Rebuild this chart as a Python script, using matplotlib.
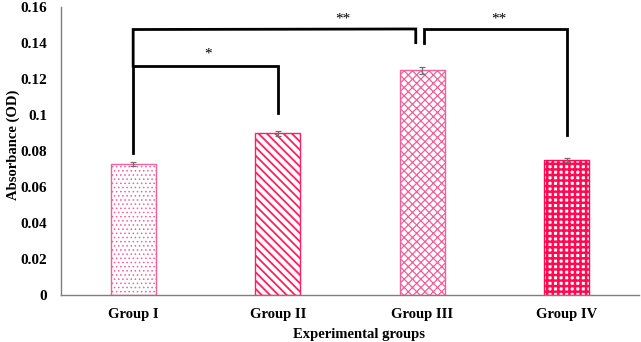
import matplotlib
matplotlib.use("Agg")
import matplotlib.pyplot as plt
import numpy as np

categories = ["Group I", "Group II", "Group III", "Group IV"]
values = [0.0728, 0.0898, 0.1248, 0.0750]
errors = [0.0010, 0.0013, 0.0020, 0.0011]
yticks = [0, 0.02, 0.04, 0.06, 0.08, 0.1, 0.12, 0.14, 0.16]
ytick_labels = ["0", "0.02", "0.04", "0.06", "0.08", "0.1", "0.12", "0.14", "0.16"]
hatches = ["....", "\\\\\\\\", "xxxx", "+++"]
edge_colors = ["#f0609a", "#ff1f5f", "#f0609a", "#ff0a52"]
hatch_lws = [0.6, 1.3, 0.9, 1.8]

plt.rcParams["font.family"] = ["Liberation Serif", "DejaVu Serif"]
plt.rcParams["font.weight"] = "bold"
plt.rcParams["hatch.linewidth"] = 1.0

fig = plt.figure(figsize=(6.41, 3.42), dpi=100)
ax = fig.add_axes([0.095, 0.1374, 0.902, 0.8421])

x = np.arange(len(categories))
for i in range(len(categories)):
    bars = ax.bar(x[i], values[i], width=0.31, color="white", edgecolor=edge_colors[i],
                  hatch=hatches[i], linewidth=1.0, zorder=2)
    for b in bars:
        try:
            b.set_hatch_linewidth(hatch_lws[i])
        except Exception:
            pass
ax.errorbar(x, values, yerr=errors, fmt="none", ecolor="#707070", elinewidth=0.9,
            capsize=2.5, capthick=0.9, zorder=3)

ax.set_xlim(-0.5, 3.5)
ax.set_ylim(0, 0.16)
ax.set_yticks(yticks)
ax.set_yticklabels(ytick_labels, fontsize=11, fontweight="bold")
ax.set_xticks(x)
ax.set_xticklabels(categories, fontsize=10.5, fontweight="bold")
ax.tick_params(axis="x", length=0, pad=9)
ax.tick_params(axis="y", length=0, pad=10)
for s in ["top", "right"]:
    ax.spines[s].set_visible(False)
ax.spines["left"].set_color("#7f7f7f")
ax.spines["bottom"].set_color("#7f7f7f")
ax.spines["left"].set_linewidth(1.0)
ax.spines["bottom"].set_linewidth(1.0)

ax.set_xlabel("Experimental groups", fontsize=10.5, fontweight="bold")
ax.xaxis.set_label_coords(0.515, -0.115)
ax.set_ylabel("Absorbance (OD)", fontsize=10.5, fontweight="bold", va="center")
ax.yaxis.set_label_coords(-0.082, 0.52)

lw = 2.0
# Group I vs Group II
ax.plot([x[0], x[0], x[1], x[1]], [0.0789, 0.1272, 0.1272, 0.1013],
        color="black", lw=lw, solid_joinstyle="miter", clip_on=False)
ax.text(0.52, 0.1300, "*", ha="center", va="bottom", fontsize=11, fontweight="normal")
# Group I vs Group III
ax.plot([x[0], x[0], x[2] - 0.045, x[2] - 0.045], [0.1272, 0.1475, 0.1478, 0.1402],
        color="black", lw=lw, solid_joinstyle="miter", clip_on=False)
ax.text(1.45, 0.1495, "**", ha="center", va="bottom", fontsize=11, fontweight="normal")
# Group III vs Group IV
ax.plot([x[2] + 0.01, x[2] + 0.01, x[3], x[3]], [0.1402, 0.1478, 0.1478, 0.0889],
        color="black", lw=lw, solid_joinstyle="miter", clip_on=False)
ax.text(2.53, 0.1495, "**", ha="center", va="bottom", fontsize=11, fontweight="normal")

fig.savefig("out.png", dpi=100)
